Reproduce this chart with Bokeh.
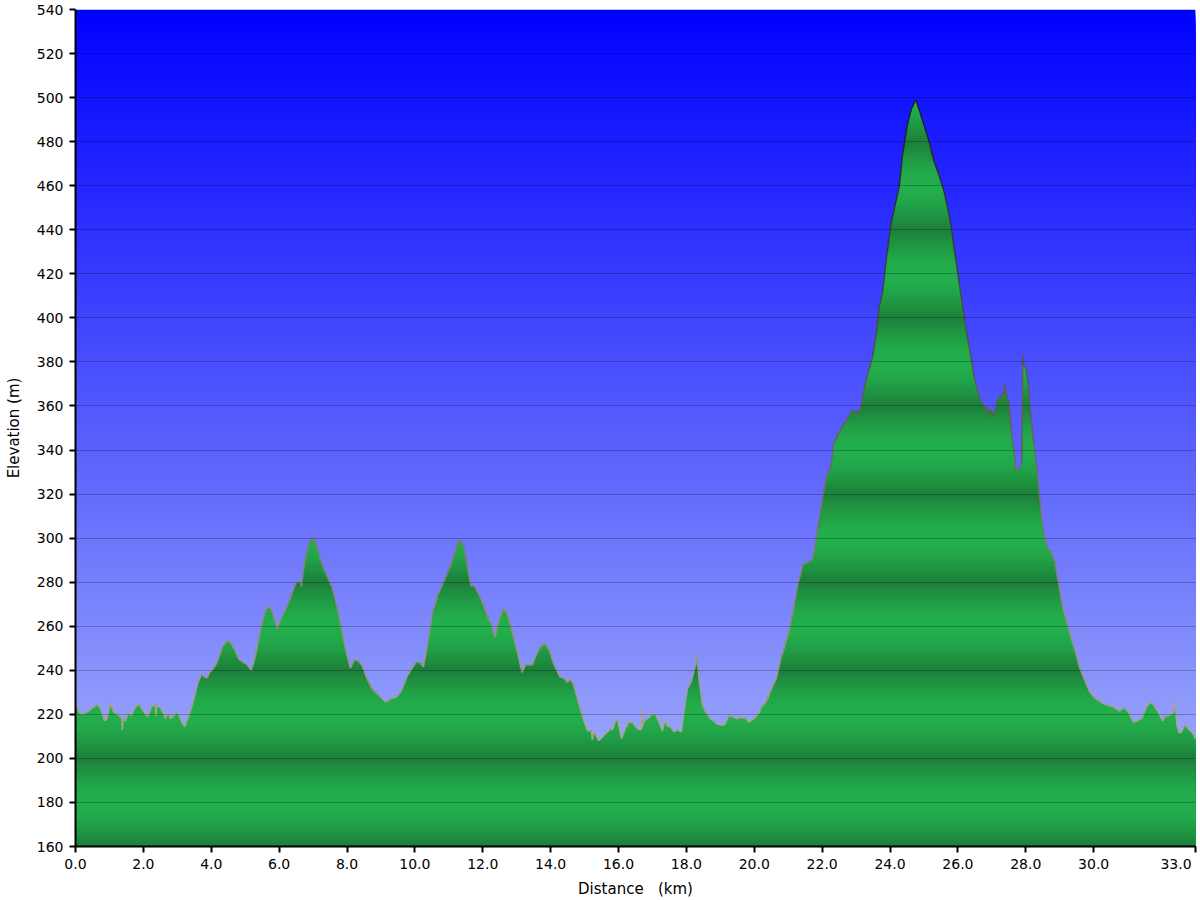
import numpy as np
from bokeh.plotting import figure
from bokeh.models import Range1d, FixedTicker, NumeralTickFormatter
from bokeh.embed import file_html
from bokeh.resources import INLINE

# ---------------- data ----------------
dist_km = [
    0.00, 0.10, 0.20, 0.39, 0.64, 0.74, 0.86, 0.93, 1.03, 1.13, 1.28, 1.37, 1.38, 1.40,
    1.47, 1.55, 1.65, 1.77, 1.87, 1.96, 2.08, 2.14, 2.24, 2.35, 2.37, 2.39, 2.50, 2.60,
    2.65, 2.73, 2.80, 2.88, 2.98, 3.05, 3.12, 3.16, 3.22, 3.34, 3.44, 3.54, 3.61, 3.71,
    3.81, 3.88, 3.95, 4.05, 4.17, 4.32, 4.47, 4.57, 4.70, 4.81, 4.96, 5.06, 5.18, 5.26,
    5.38, 5.50, 5.62, 5.72, 5.82, 5.94, 6.04, 6.19, 6.34, 6.50, 6.63, 6.66, 6.68, 6.76,
    6.88, 6.99, 7.09, 7.25, 7.42, 7.56, 7.71, 7.86, 7.99, 8.10, 8.22, 8.35, 8.45, 8.58,
    8.74, 8.94, 9.14, 9.28, 9.48, 9.63, 9.75, 9.92, 10.05, 10.15, 10.25, 10.36, 10.51,
    10.66, 10.84, 10.97, 11.13, 11.30, 11.42, 11.54, 11.64, 11.76, 11.93, 12.13, 12.25,
    12.36, 12.48, 12.62, 12.72, 12.87, 13.02, 13.16, 13.26, 13.46, 13.56, 13.68, 13.82,
    13.95, 14.10, 14.27, 14.39, 14.49, 14.59, 14.67, 14.78, 14.93, 15.08, 15.20, 15.23,
    15.26, 15.42, 15.57, 15.77, 15.82, 15.93, 15.99, 16.09, 16.21, 16.33, 16.45, 16.55,
    16.67, 16.68, 16.70, 16.75, 16.85, 17.00, 17.09, 17.19, 17.29, 17.37, 17.44, 17.53,
    17.63, 17.73, 17.85, 17.93, 18.03, 18.15, 18.29, 18.30, 18.37, 18.47, 18.57, 18.71,
    18.91, 19.06, 19.14, 19.25, 19.40, 19.50, 19.57, 19.73, 19.84, 19.99, 20.14, 20.19,
    20.29, 20.39, 20.53, 20.63, 20.71, 20.78, 20.87, 20.93, 21.02, 21.05, 21.17, 21.29,
    21.32, 21.43, 21.59, 21.71, 21.76, 21.86, 22.01, 22.11, 22.25, 22.35, 22.50, 22.63,
    22.76, 22.89, 23.04, 23.14, 23.25, 23.38, 23.48, 23.58, 23.68, 23.78, 23.90, 24.02,
    24.14, 24.27, 24.37, 24.51, 24.63, 24.76, 24.89, 25.00, 25.15, 25.30, 25.45, 25.59,
    25.69, 25.81, 25.94, 26.08, 26.20, 26.33, 26.48, 26.62, 26.75, 26.85, 26.87, 26.92,
    27.07, 27.15, 27.26, 27.36, 27.37, 27.44, 27.51, 27.58, 27.66, 27.71, 27.81, 27.88,
    27.91, 27.94, 28.00, 28.07, 28.15, 28.25, 28.35, 28.44, 28.54, 28.66, 28.74, 28.86,
    28.98, 29.08, 29.21, 29.33, 29.47, 29.60, 29.72, 29.87, 30.02, 30.21, 30.41, 30.56,
    30.75, 30.90, 31.02, 31.17, 31.29, 31.44, 31.54, 31.67, 31.78, 31.90, 32.03, 32.10,
    32.23, 32.35, 32.40, 32.45, 32.52, 32.59, 32.69, 32.77, 32.86, 32.96, 33.00,
]
elev_m = [
    226.0, 221.0, 220.0, 221.5, 224.5, 222.5, 217.0, 218.0, 225.0, 221.0, 219.5, 218.0, 213.0, 218.0,
    217.0, 220.5, 219.5, 223.5, 224.5, 222.5, 219.5, 219.0, 223.5, 224.5, 219.5, 224.0, 223.0, 220.0,
    218.0, 221.0, 218.0, 219.0, 221.0, 219.5, 217.0, 215.5, 214.5, 219.5, 224.0, 230.0, 234.5, 238.0,
    237.0, 236.5, 239.0, 240.5, 243.5, 250.5, 253.5, 252.5, 249.0, 245.0, 243.5, 242.5, 240.0, 244.0,
    252.5, 261.5, 267.5, 269.0, 265.5, 258.5, 263.0, 267.5, 273.0, 280.0, 280.0, 278.0, 281.0, 290.0,
    297.5, 300.5, 297.5, 288.5, 282.5, 277.5, 268.5, 257.0, 247.5, 241.0, 245.0, 244.0, 242.0, 236.5,
    231.5, 228.5, 225.5, 227.0, 228.0, 231.5, 236.5, 241.0, 244.0, 243.5, 241.5, 250.5, 265.5,
    273.5, 280.0, 284.5, 291.0, 299.0, 297.5, 288.0, 278.5, 278.0, 273.0, 264.5, 261.0,
    255.0, 263.0, 268.0, 266.0, 257.0, 248.0, 239.0, 242.5, 242.5, 246.5, 250.5, 252.0,
    249.5, 242.5, 237.0, 236.5, 234.5, 236.0, 233.5, 227.5, 219.5, 212.5, 212.5, 208.5,
    212.5, 208.0, 210.5, 213.5, 213.0, 218.0, 216.5, 209.0, 214.0, 217.0, 215.5, 213.5,
    213.0, 222.0, 214.0, 217.0, 218.0, 220.0, 220.0, 216.5, 212.5, 217.5, 214.5, 214.5,
    212.0, 213.0, 212.0, 221.0, 231.5, 235.0, 243.5, 247.0, 236.0, 224.0, 221.0, 218.0,
    215.5, 215.0, 215.5, 219.5, 218.5, 218.0, 218.5, 218.5, 216.5, 218.0, 220.5, 223.0,
    224.5, 227.0, 232.5, 235.5, 240.0, 245.5, 249.5, 253.0, 257.5, 260.0, 268.5, 279.5,
    281.0, 288.0, 289.0, 290.5, 293.5, 303.5, 317.5, 327.0, 332.5, 343.5, 348.0, 351.5,
    354.5, 358.0, 357.0, 359.0, 369.0, 376.5, 382.0, 391.5, 405.0, 411.5, 428.0, 442.0,
    450.5, 459.5, 474.5, 487.5, 495.0, 499.0, 493.0, 487.5, 480.0, 471.0, 464.5, 457.5,
    450.5, 440.5, 426.5, 411.5, 399.0, 387.0, 373.0, 364.5, 360.0, 359.0, 355.0, 359.0,
    356.0, 362.0, 364.5, 366.0, 370.0, 364.0, 361.0, 347.5, 338.5, 331.0, 331.5, 334.0,
    383.0, 378.0, 377.5, 370.0, 355.0, 341.5, 328.0, 313.0, 301.0, 295.0, 294.0, 289.0,
    278.0, 269.0, 261.5, 255.0, 248.0, 240.5, 236.0, 230.5, 227.5, 225.5, 224.0, 223.5,
    221.5, 223.0, 221.0, 216.5, 217.0, 218.5, 223.0, 225.5, 224.0, 221.0, 217.0, 219.0,
    219.5, 220.5, 225.5, 215.0, 211.5, 212.0, 215.5, 213.5, 212.5, 210.5, 208.5,
]

x_ticks = [0, 2, 4, 6, 8, 10, 12, 14, 16, 18, 20, 22, 24, 26, 28, 30, 33]
y_ticks = list(range(160, 541, 20))
x_title = "Distance \u00a0 (km)"
y_title = "Elevation (m)"
last_x_label = "33.0"

X_MIN, X_MAX = 0.0, 33.0
Y_MIN, Y_MAX = 160.0, 540.0

FONT = "DejaVu Sans"


def lerp(c0, c1, t):
    return "#%02x%02x%02x" % tuple(int(round(a + (b - a) * t)) for a, b in zip(c0, c1))


p = figure(width=1200, height=900, output_backend="svg", toolbar_location=None,
           x_range=Range1d(X_MIN, X_MAX), y_range=Range1d(Y_MIN, Y_MAX),
           min_border_left=75, min_border_right=5, min_border_top=9, min_border_bottom=54)
p.outline_line_color = None
p.background_fill_color = "white"
p.border_fill_color = "white"

# ---- sky gradient (stacked, overlapping quads, top first) ----
sky_top = (0, 0, 255)
sky_bot = (172, 186, 250)
bg_tops = np.arange(Y_MAX, Y_MIN, -1.0)
bg_cols = [lerp(sky_top, sky_bot, (Y_MAX - (t - 0.5)) / (Y_MAX - Y_MIN)) for t in bg_tops]
p.quad(left=X_MIN, right=X_MAX, bottom=Y_MIN, top=bg_tops, fill_color=bg_cols,
       line_color=None)

# ---- banded green terrain fill ----
d = np.array(dist_km, dtype=float)
e = np.array(elev_m, dtype=float)
green_dark = (28, 128, 58)
green_light = (35, 174, 76)
tops = np.arange(np.ceil(e.max()) + 1, Y_MIN, -1.0)
xs, ys, cols = [], [], []
for t in tops:
    xs.append(list(d) + [d[-1], d[0]])
    ys.append(list(np.minimum(e, t)) + [Y_MIN, Y_MIN])
    ph = ((t - 0.5 - Y_MIN) % 40.0) / 40.0
    b = ((1 - np.cos(2 * np.pi * ph)) / 2.0) ** 0.55
    cols.append(lerp(green_dark, green_light, b))
p.patches(xs=xs, ys=ys, fill_color=cols, line_color=None)

# ---- outline of profile, darker with elevation ----
seg_x = [[d[i], d[i + 1]] for i in range(len(d) - 1)]
seg_y = [[e[i], e[i + 1]] for i in range(len(e) - 1)]
line_lo = (178, 166, 152)
line_hi = (30, 28, 40)
seg_c = [lerp(line_lo, line_hi, min(1, max(0, ((e[i] + e[i + 1]) / 2 - 210) / 280)))
         for i in range(len(d) - 1)]
p.multi_line(xs=seg_x, ys=seg_y, line_color=seg_c, line_width=1.4)

# ---- grid ----
p.xgrid.visible = False
p.ygrid.ticker = FixedTicker(ticks=y_ticks)
p.ygrid.grid_line_color = "black"
p.ygrid.grid_line_alpha = 0.24
p.ygrid.grid_line_width = 1
p.ygrid.level = "guide"

# ---- axes ----
p.xaxis.ticker = FixedTicker(ticks=x_ticks)
p.xaxis.formatter = NumeralTickFormatter(format="0.0")
# last label is kept inside the canvas and pushed slightly left, as in the reference
p.xaxis.major_label_overrides = {33: last_x_label + "\u00a0\u00a0"}
p.yaxis.ticker = FixedTicker(ticks=y_ticks)
for ax in (p.xaxis[0], p.yaxis[0]):
    ax.axis_line_color = "black"
    ax.axis_line_width = 2
    ax.major_tick_line_color = "black"
    ax.major_tick_line_width = 2
    ax.major_tick_out = 6
    ax.major_tick_in = 0
    ax.minor_tick_line_color = None
    ax.major_label_text_font = FONT
    ax.major_label_text_font_size = "14px"
    ax.major_label_text_color = "black"
    ax.axis_label_text_font = FONT
    ax.axis_label_text_font_size = "15px"
    ax.axis_label_text_font_style = "normal"
    ax.axis_label_text_color = "black"
p.xaxis.axis_label = x_title
p.yaxis.axis_label = y_title
p.xaxis.major_label_standoff = 3
p.xaxis.axis_label_standoff = 5
p.yaxis.major_label_standoff = 6
p.yaxis.axis_label_standoff = 11

open("out.html", "w").write(file_html(p, INLINE))
